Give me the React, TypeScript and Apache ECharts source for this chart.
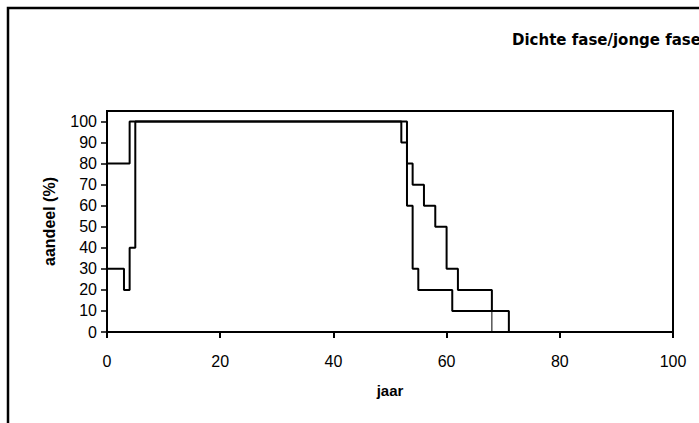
import React, { useEffect, useRef } from "react";
import * as echarts from "echarts";

const titleText = "Dichte fase/jonge fase";
const xName = "jaar";
const yName = "aandeel (%)";
const xTicks = [0, 20, 40, 60, 80, 100];
const yTicks = [0, 10, 20, 30, 40, 50, 60, 70, 80, 90, 100];

// step change points (value holds until next x)
const seriesA = [
  [0, 80], [4, 100], [53, 80], [54, 70], [56, 60], [58, 50], [60, 30], [62, 20], [68, 10],
];
const seriesAEnd = [
  [68, 10], [68, 0],
];
const seriesB = [
  [0, 30], [3, 20], [4, 40], [5, 100], [52, 90], [53, 60], [54, 30], [55, 20], [61, 10], [71, 0],
];

const FONT = "Liberation Sans";

export default function App() {
  const ref = useRef<HTMLDivElement>(null);
  useEffect(() => {
    if (!ref.current) return;
    const chart = echarts.init(ref.current, undefined, { renderer: "svg" });
    chart.setOption({
      animation: false,
      backgroundColor: "#ffffff",
      title: {
        text: titleText,
        left: 507,
        top: 27,
        textStyle: {
          fontFamily: "DejaVu Sans",
          fontWeight: "bold",
          fontSize: 15,
          color: "#000",
        },
      },
      graphic: [
        {
          type: "rect",
          shape: { x: 8, y: 8, width: 1200, height: 1200 },
          style: { fill: "none", stroke: "#000", lineWidth: 2.5 },
          silent: true,
        },
      ],
      grid: {
        left: 107,
        right: 26,
        top: 111,
        bottom: 91,
        show: true,
        borderColor: "#000",
        borderWidth: 2,
        backgroundColor: "transparent",
      },
      xAxis: {
        type: "value",
        min: 0,
        max: 100,
        interval: 20,
        name: xName,
        nameLocation: "middle",
        nameGap: 51,
        nameTextStyle: { fontFamily: FONT, fontWeight: "bold", fontSize: 15, color: "#000" },
        axisLine: { show: true, onZero: false, lineStyle: { color: "#000", width: 2 } },
        axisTick: { show: true, inside: false, length: 6, lineStyle: { color: "#000", width: 2 }, customValues: xTicks },
        axisLabel: { fontFamily: FONT, fontSize: 16, color: "#000", margin: 21, customValues: xTicks },
        splitLine: { show: false },
      },
      yAxis: {
        type: "value",
        min: 0,
        max: 105,
        interval: 10,
        name: yName,
        nameLocation: "middle",
        nameGap: 50,
        nameTextStyle: { fontFamily: FONT, fontWeight: "bold", fontSize: 16, color: "#000" },
        axisLine: { show: true, onZero: false, lineStyle: { color: "#000", width: 2 } },
        axisTick: { show: true, inside: false, length: 6, lineStyle: { color: "#000", width: 1.5 }, customValues: yTicks },
        axisLabel: { fontFamily: FONT, fontSize: 16, color: "#000", margin: 10, customValues: yTicks },
        splitLine: { show: false },
      },
      series: [
        {
          name: "A",
          type: "line",
          step: "end",
          data: seriesA,
          showSymbol: false,
          symbol: "none",
          lineStyle: { color: "#000", width: 2 },
          clip: false,
        },
        {
          name: "A end",
          type: "line",
          data: seriesAEnd,
          showSymbol: false,
          symbol: "none",
          lineStyle: { color: "#000", width: 1 },
          clip: false,
        },
        {
          name: "B",
          type: "line",
          step: "end",
          data: seriesB,
          showSymbol: false,
          symbol: "none",
          lineStyle: { color: "#000", width: 2 },
          clip: false,
        },
      ],
    });
    return () => chart.dispose();
  }, []);
  return (
    <div
      ref={ref}
      style={{ position: "fixed", left: 0, top: 0, width: 699, height: 423, background: "#fff" }}
    />
  );
}
